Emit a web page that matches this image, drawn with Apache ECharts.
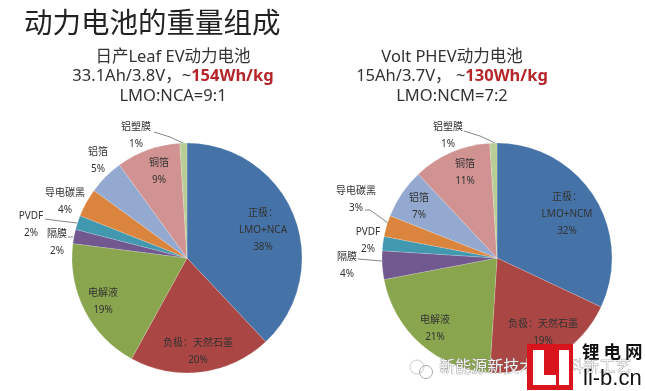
<!DOCTYPE html>
<html><head><meta charset="utf-8">
<style>html,body{margin:0;padding:0;background:#fff}#c{width:645px;height:391px;filter:blur(0.4px)}</style>
<script src="https://cdn.jsdelivr.net/npm/echarts@6/dist/echarts.min.js"></script>
</head><body><div id="c"></div>
<script>
const componentsLeaf = ['正极：\nLMO+NCA','负极：天然石墨','电解液','隔膜','PVDF','导电碳黑','铝箔','铜箔','铝塑膜'];
const valuesLeaf = [38,20,19,2,2,4,5,9,1];
const componentsVolt = ['正极：\nLMO+NCM','负极：天然石墨','电解液','隔膜','PVDF','导电碳黑','铝箔','铜箔','铝塑膜'];
const valuesVolt = [32,19,21,4,2,3,7,11,1];
const sliceColors = ['#4572a7','#aa4643','#89a54e','#71588f','#4198af','#db843d','#93a9cf','#d19392','#b9cd96'];
const chartTitle = '动力电池的重量组成';
const leafTitle = ['日产Leaf EV动力电池','33.1Ah/3.8V，~','154Wh/kg','LMO:NCA=9:1'];
const voltTitle = ['Volt PHEV动力电池','15Ah/3.7V， ~','130Wh/kg','LMO:NCM=7:2'];
const watermark = '新能源新技术、材料新工艺';
const logoName = '锂 电 网', logoUrl = 'li-b.cn';

const FONT = '"Noto Sans","Noto Sans CJK SC",sans-serif';
const leafPos = [[263,230],[198,351.5],[103,301.5],[57,242.5],[31,224.5],[65,201.5],[98,160.5],[159,171.5],[136,135.5]];
const voltPos = [[567,214],[543,332.5],[435,328.5],[347,265.5],[368,240.5],[356,199.5],[419,206.5],[465,172.5],[448,135.5]];
const leafLeaders = {3:[[68,237],[70,237],[73,237]],4:[[45,219],[60,221],[77,223]],8:[[154,132],[170,137],[185,144]]};
const voltLeaders = {3:[[358,259],[370,260],[382,261]],5:[[365,210],[370,210],[388,223]],8:[[464,131],[480,136],[495,143]]};

function pie(cx, names, vals, pos, leaders){
  return {
    type:'pie', center:[cx,258], radius:[0,115], startAngle:90, clockwise:true, silent:true,
    itemStyle:{borderColor:'rgba(255,255,255,0.35)',borderWidth:0.5},
    label:{position:'outside',overflow:'none',width:120,color:'#333',fontSize:10,lineHeight:17,fontFamily:FONT,align:'center',verticalAlign:'middle',formatter:'{b}\n{c}%'},
    labelLayout:p=>{
      const o={x:pos[p.dataIndex][0],y:pos[p.dataIndex][1],align:'center',verticalAlign:'middle'};
      if(leaders[p.dataIndex]) o.labelLinePoints=leaders[p.dataIndex];
      return o;
    },
    data:names.map((n,i)=>({name:n,value:vals[i],itemStyle:{color:sliceColors[i]},
      labelLine:{show:!!leaders[i],lineStyle:{color:'#666',width:0.8}}}))
  };
}
function head(lines,x){
  const s={fontFamily:FONT,fontSize:16.5,lineHeight:19.5,fontWeight:'normal'};
  return {
    left:x, top:42.5, textAlign:'center',
    text:`{a|${lines[0]}}\n{a|${lines[1]}}{r|${lines[2]}}\n{a|${lines[3]}}`,
    textStyle:{fontWeight:'normal',rich:{a:{...s,color:'#333'},r:{...s,fontWeight:'bold',color:'#b5262b'}}}
  };
}
const chart = echarts.init(document.getElementById('c'),null,{renderer:'canvas'});
chart.setOption({
  animation:false, backgroundColor:'#fff',
  title:[
    {left:19,top:3,text:chartTitle,textStyle:{fontFamily:'"Noto Sans CJK SC"',fontSize:28.5,fontWeight:'normal',color:'#222'}},
    head(leafTitle,168),
    head(voltTitle,447)
  ],
  series:[pie(187,componentsLeaf,valuesLeaf,leafPos,leafLeaders),pie(497,componentsVolt,valuesVolt,voltPos,voltLeaders)],
  graphic:[
    {type:'rect',z:18,shape:{x:573,y:344,width:72,height:47},style:{fill:'#fff'}},
    {type:'circle',z:20,shape:{cx:417,cy:367,r:7},style:{fill:'none',stroke:'#ccc',lineWidth:1}},
    {type:'circle',z:20,shape:{cx:426,cy:372,r:6.5},style:{fill:'none',stroke:'#aaa',lineWidth:1}},
    {type:'text',left:439,top:358,z:20,style:{text:watermark,fontFamily:'"Noto Sans CJK SC"',fontSize:16,fill:'#f2f2f2',stroke:'#777',lineWidth:0.5,shadowColor:'#444',shadowBlur:2,shadowOffsetX:0.5,shadowOffsetY:0.5}},
    {type:'rect',z:30,shape:{x:527,y:344,width:46,height:46},style:{fill:'#d9141c'}},
    {type:'rect',z:31,shape:{x:533,y:350,width:11,height:35},style:{fill:'#fff'}},
    {type:'rect',z:31,shape:{x:533,y:375,width:23,height:10},style:{fill:'#fff'}},
    {type:'rect',z:31,shape:{x:559,y:350,width:10,height:35},style:{fill:'#fff'}},
    {type:'text',z:31,left:582,top:343,style:{text:logoName,fontFamily:'"Noto Sans CJK SC"',fontWeight:'bold',fontSize:17.5,fill:'#111'}},
    {type:'text',z:31,left:583,top:368,style:{text:logoUrl,fontFamily:'"Liberation Sans"',fontSize:22,fill:'#111'}}
  ]
});
</script></body></html>
